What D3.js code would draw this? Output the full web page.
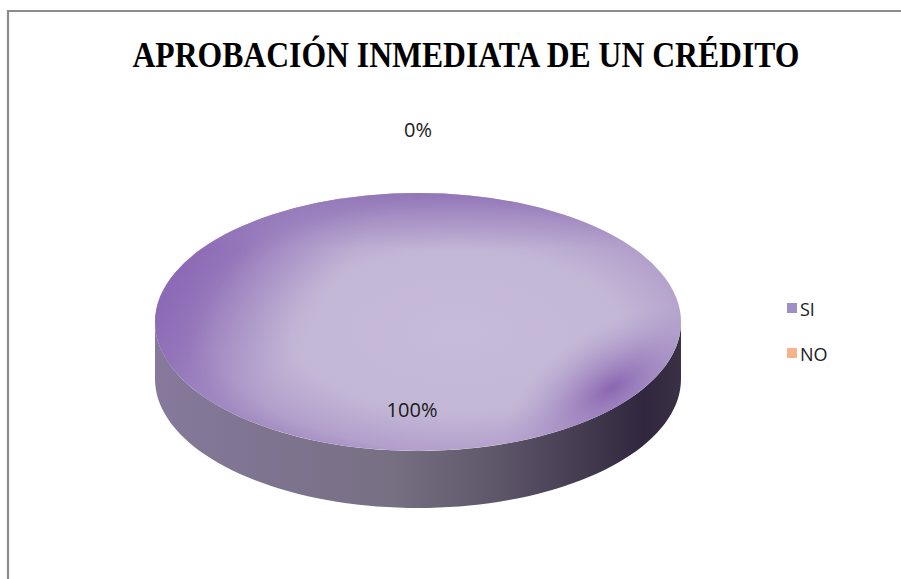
<!DOCTYPE html>
<html>
<head>
<meta charset="utf-8">
<script src="https://cdn.jsdelivr.net/npm/d3@7"></script>
<style>
  html, body { margin: 0; padding: 0; background: #ffffff; }
  svg { display: block; }
</style>
</head>
<body>
<div id="chart"></div>
<script>
// Chart data
const title = "APROBACIÓN INMEDIATA DE UN CRÉDITO";
const categories = ["SI", "NO"];
const values = [100, 0];
const legendColors = ["#a08ec8", "#f8b38c"];

const W = 901, H = 579;

const svg = d3.select("#chart").append("svg")
  .attr("width", W).attr("height", H);

const defs = svg.append("defs");

// Outer chart frame (open at right and bottom)
svg.append("path")
  .attr("d", `M${W + 5},11 L8,11 L8,${H + 5}`)
  .attr("fill", "none")
  .attr("stroke", "#8c8c8c")
  .attr("stroke-width", 2.2);

// Title
svg.append("text")
  .attr("x", 466).attr("y", 67)
  .attr("text-anchor", "middle")
  .attr("font-family", "'Liberation Serif', 'Times New Roman', serif")
  .attr("font-weight", "bold")
  .attr("font-size", 36)
  .attr("textLength", 667)
  .attr("lengthAdjust", "spacingAndGlyphs")
  .attr("fill", "#000")
  .text(title);

// Pie geometry: ellipse projection of a tilted disc
const cx = 418, cy = 322, rx = 263, ry = 129, depth = 57;

const pie = d3.pie().sort(null).startAngle(0).endAngle(2 * Math.PI)(values);
const total = d3.sum(values);

// Map a pie angle (0 at 12 o'clock, clockwise) to the ellipse
const px = a => cx + rx * Math.sin(a);
const py = a => cy - ry * Math.cos(a);

// Gradients
const sideGrad = defs.append("linearGradient")
  .attr("id", "sideGrad").attr("gradientUnits", "userSpaceOnUse")
  .attr("x1", cx - rx).attr("y1", 0).attr("x2", cx + rx).attr("y2", 0);
[[0, "#86799c"], [0.2, "#7f7490"], [0.45, "#777083"], [0.65, "#5e5669"],
 [0.82, "#433a50"], [0.93, "#30263d"], [1, "#3a3146"]]
  .forEach(([o, c]) => sideGrad.append("stop").attr("offset", o).attr("stop-color", c));

const topBase = defs.append("radialGradient")
  .attr("id", "topBase").attr("gradientUnits", "userSpaceOnUse")
  .attr("cx", cx + 40).attr("cy", cy + 10).attr("r", rx * 1.05)
  .attr("gradientTransform", `translate(${cx + 40},${cy + 10}) scale(1,${ry / rx}) translate(${-(cx + 40)},${-(cy + 10)})`);
[[0, "#c6bbd8"], [0.6, "#c3b7d6"], [0.88, "#b29fcb"], [1, "#a28bc1"]]
  .forEach(([o, c]) => topBase.append("stop").attr("offset", o).attr("stop-color", c));

const topShade = defs.append("linearGradient")
  .attr("id", "topShade").attr("gradientUnits", "userSpaceOnUse")
  .attr("x1", cx - rx).attr("y1", cy - ry).attr("x2", cx + 30).attr("y2", cy + 40);
[[0, "#7d55ad", 0.95], [0.3, "#8a66b4", 0.6], [0.6, "#a58fc6", 0], [1, "#c4b8d6", 0]]
  .forEach(([o, c, op]) => topShade.append("stop").attr("offset", o)
    .attr("stop-color", c).attr("stop-opacity", op));

const spot = defs.append("radialGradient")
  .attr("id", "spot").attr("gradientUnits", "userSpaceOnUse")
  .attr("cx", 612).attr("cy", 388).attr("r", 120)
  .attr("gradientTransform", "translate(612,388) rotate(-32) scale(1,0.5) translate(-612,-388)");
[[0, "#8159ab", 0.85], [0.4, "#8e6bb4", 0.5], [1, "#a590c6", 0]]
  .forEach(([o, c, op]) => spot.append("stop").attr("offset", o)
    .attr("stop-color", c).attr("stop-opacity", op));

const topEdge = defs.append("linearGradient")
  .attr("id", "topEdge").attr("x1", 0).attr("y1", 0).attr("x2", 0).attr("y2", 1);
[[0, "#8f72b6", 0.8], [0.22, "#a08ac2", 0], [1, "#a08ac2", 0]]
  .forEach(([o, c, op]) => topEdge.append("stop").attr("offset", o)
    .attr("stop-color", c).attr("stop-opacity", op));

// Outer wall of each slice: only the part facing the viewer (angles between PI/2 and 3PI/2)
function wallPath(a0, a1) {
  const s = Math.max(a0, Math.PI / 2), e = Math.min(a1, 3 * Math.PI / 2);
  if (e <= s) return null;
  const steps = 80;
  const pts = d3.range(steps + 1).map(i => s + (e - s) * i / steps);
  let d = "M" + pts.map(a => `${px(a)},${py(a)}`).join("L");
  d += "L" + pts.slice().reverse().map(a => `${px(a)},${py(a) + depth}`).join("L");
  return d + "Z";
}

// Top face of each slice
function topPath(a0, a1) {
  if (a1 - a0 >= 2 * Math.PI - 1e-9) {
    return `M${cx - rx},${cy}A${rx},${ry} 0 1,1 ${cx + rx},${cy}A${rx},${ry} 0 1,1 ${cx - rx},${cy}Z`;
  }
  const steps = 120;
  const pts = d3.range(steps + 1).map(i => a0 + (a1 - a0) * i / steps);
  return `M${cx},${cy}L` + pts.map(a => `${px(a)},${py(a)}`).join("L") + "Z";
}

const gPie = svg.append("g");
pie.forEach((d, i) => {
  if (d.endAngle - d.startAngle <= 0) return;
  const w = wallPath(d.startAngle, d.endAngle);
  if (w) gPie.append("path").attr("d", w).attr("fill", "url(#sideGrad)");
  const t = topPath(d.startAngle, d.endAngle);
  gPie.append("path").attr("d", t).attr("fill", "url(#topBase)");
  gPie.append("path").attr("d", t).attr("fill", "url(#topShade)");
  gPie.append("path").attr("d", t).attr("fill", "url(#topEdge)");
  gPie.append("path").attr("d", t).attr("fill", "url(#spot)");
});

// Data labels: inside for non-empty slices, outside for empty ones
const fmt = v => Math.round(v / total * 100) + "%";
pie.forEach(d => {
  const mid = (d.startAngle + d.endAngle) / 2;
  const empty = d.endAngle - d.startAngle <= 0;
  const k = empty ? 1.49 : 0.68;
  const x = cx + rx * k * Math.sin(mid) * (empty ? 0 : 1);
  const y = cy - ry * k * Math.cos(mid);
  svg.append("text")
    .attr("x", x - (empty ? 0 : 6)).attr("y", y)
    .attr("text-anchor", "middle")
    .attr("dominant-baseline", "central")
    .attr("font-family", "'Open Sans', 'Liberation Sans', sans-serif")
    .attr("font-size", 20)
    .attr("fill", "#1a1a1a")
    .text(fmt(d.data));
});

// Legend
const legend = svg.append("g").attr("transform", "translate(787,300)");
categories.forEach((c, i) => {
  const g = legend.append("g").attr("transform", `translate(0,${i * 45})`);
  g.append("rect").attr("x", 0).attr("y", 3).attr("width", 10).attr("height", 10)
    .attr("fill", legendColors[i]);
  g.append("text").attr("x", 13).attr("y", 9)
    .attr("dominant-baseline", "central")
    .attr("font-family", "'Open Sans', 'Liberation Sans', sans-serif")
    .attr("font-size", 18)
    .attr("fill", "#1a1a1a")
    .text(c);
});
</script>
</body>
</html>
